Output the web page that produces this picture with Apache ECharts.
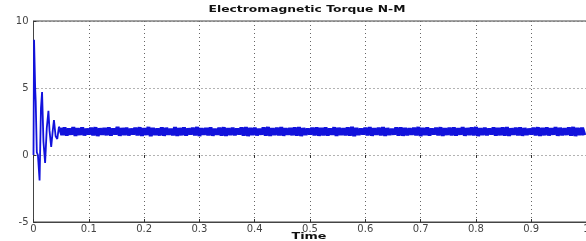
<!DOCTYPE html>
<html>
<head>
<meta charset="utf-8">
<script src="https://cdn.jsdelivr.net/npm/echarts@6/dist/echarts.min.js"></script>
<style>
  html, body { margin: 0; padding: 0; background: #fff; }
  #chart { width: 586px; height: 241px; }
</style>
</head>
<body>
<div id="chart"></div>
<script>
// start-up transient (time in s, torque in N-M)
const transientTime = [0, 0.001, 0.002, 0.003, 0.004, 0.006, 0.008, 0.011, 0.0135, 0.0155,
  0.018, 0.021, 0.024, 0.027, 0.029, 0.032, 0.035, 0.037, 0.040, 0.043, 0.046];
const transientTorque = [0, 8.6, 8.5, 5.0, 4.0, 0.2, 0.0, -1.9, 3.5, 4.7,
  1.0, -0.6, 2.0, 3.3, 1.8, 0.6, 1.9, 2.6, 1.4, 1.2, 2.1];

// steady state ripple, sampled every 4 ms from 0.048 s
const steadyStart = 0.048;
const steadyStep = 0.004;
const steadyTorque = [
  2.00,1.50,2.05,1.46,1.96,1.53,2.07,1.44,1.99,1.51,2.04,1.47,1.95,1.55,2.02,1.48,2.06,1.43,1.98,1.52,
  2.01,1.49,2.05,1.46,1.96,1.54,2.08,1.45,2.00,1.50,2.03,1.47,1.95,1.54,2.02,1.48,2.06,1.44,1.99,1.51,
  2.08,1.42,2.01,1.51,1.97,1.47,2.05,1.45,2.02,1.53,1.94,1.48,2.07,1.44,2.00,1.49,2.04,1.46,1.97,1.55,
  2.03,1.47,2.08,1.43,1.99,1.52,2.01,1.48,2.05,1.45,1.95,1.53,2.03,1.46,2.06,1.44,1.99,1.51,2.02,1.48,
  1.96,1.54,2.04,1.46,2.07,1.43,2.01,1.50,2.03,1.47,1.94,1.53,2.05,1.46,2.08,1.44,1.99,1.51,2.02,1.48,
  2.06,1.45,1.98,1.53,2.01,1.49,2.04,1.46,2.07,1.43,2.00,1.50,1.96,1.55,2.03,1.47,2.05,1.45,2.01,1.48,
  2.04,1.46,1.97,1.52,2.06,1.44,2.02,1.50,1.99,1.48,2.05,1.46,2.09,1.42,2.01,1.51,1.96,1.54,2.03,1.47,
  2.06,1.45,1.99,1.52,2.02,1.48,2.07,1.44,2.00,1.50,1.95,1.53,2.04,1.46,2.05,1.45,2.01,1.49,1.98,1.52,
  2.03,1.47,2.08,1.43,2.01,1.50,2.04,1.46,1.96,1.55,2.02,1.48,2.06,1.44,1.99,1.51,2.03,1.47,2.05,1.46,
  1.98,1.53,2.06,1.45,2.00,1.50,2.04,1.47,2.08,1.43,1.99,1.51,2.02,1.48,1.96,1.54,2.05,1.46,2.01,1.49,
  2.04,1.46,2.07,1.44,1.98,1.52,2.02,1.48,2.05,1.45,2.00,1.50,1.95,1.55,2.03,1.47,2.06,1.44,2.01,1.49,
  2.04,1.47,1.98,1.53,2.06,1.45,2.02,1.49,1.99,1.51,2.05,1.46,2.08,1.43,2.01,1.50,2.03,1.47
];

const xTicks = ['0', '0.1', '0.2', '0.3', '0.4', '0.5', '0.6', '0.7', '0.8', '0.9', '1'];
const yTicks = [-5, 0, 5, 10];

const transientData = transientTime.map((t, i) => [t, transientTorque[i]]);
const steadyData = steadyTorque.map((v, i) => [steadyStart + i * steadyStep, v]);
// join the two parts
transientData.push(steadyData[0]);

const gridLine = { show: true, lineStyle: { type: [1, 3], color: '#666', width: 1 } };
const tick = { show: true, inside: true, length: 3, lineStyle: { color: '#333' } };

const chart = echarts.init(document.getElementById('chart'));
chart.setOption({
  animation: false,
  grid: {
    left: 33.5, top: 21, width: 553, height: 201,
    outerBoundsMode: 'none',
    show: true, borderColor: '#444', borderWidth: 1
  },
  // title and axis name drawn wide like the original
  graphic: [
    {
      type: 'text', x: 307, y: 10, scaleX: 1.37,
      style: {
        text: 'Electromagnetic Torque N-M', align: 'center', verticalAlign: 'middle',
        font: 'bold 9px "DejaVu Sans"', fill: '#111'
      }
    },
    {
      type: 'text', x: 309, y: 237, scaleX: 1.5,
      style: {
        text: 'Time', align: 'center', verticalAlign: 'middle',
        font: 'bold 8.5px "DejaVu Sans"', fill: '#111'
      }
    }
  ],
  xAxis: [{
    type: 'value',
    min: 0, max: 1, interval: 0.1,
    axisLine: { show: true, onZero: false, lineStyle: { color: '#444' } },
    axisTick: tick,
    axisLabel: {
      margin: 2, fontSize: 10, color: '#444', fontFamily: 'DejaVu Sans',
      formatter: v => xTicks[Math.round(v * 10)]
    },
    splitLine: gridLine
  }, {
    type: 'value', position: 'top',
    min: 0, max: 1, interval: 0.1,
    axisLine: { show: false },
    axisTick: tick,
    axisLabel: { show: false },
    splitLine: { show: false }
  }],
  yAxis: {
    type: 'value',
    min: yTicks[0], max: yTicks[yTicks.length - 1], interval: 5,
    axisLine: { show: true, onZero: false, lineStyle: { color: '#444' } },
    axisTick: tick,
    axisLabel: { margin: 5, fontSize: 10, color: '#444', fontFamily: 'DejaVu Sans' },
    splitLine: gridLine
  },
  series: [{
    type: 'line',
    data: transientData,
    showSymbol: false,
    lineStyle: { color: '#1212dc', width: 1.8 }
  }, {
    type: 'line',
    data: steadyData,
    showSymbol: false,
    lineStyle: { color: '#1212dc', width: 4 }
  }]
});
</script>
</body>
</html>
